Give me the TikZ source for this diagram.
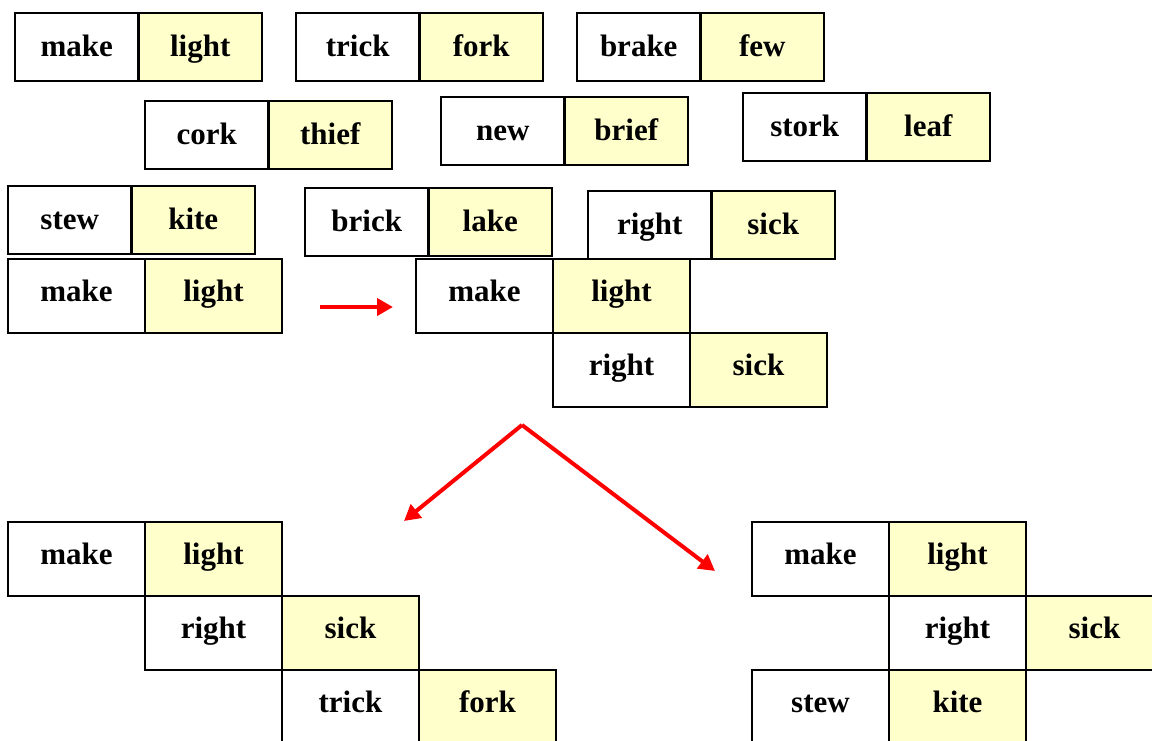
\documentclass[tikz,border=0pt]{standalone}
\usepackage{fontspec}
\setmainfont{Liberation Serif}
\usepackage{xcolor}
\usepackage{tikz}
\usetikzlibrary{arrows.meta,positioning}

\definecolor{tilefill}{HTML}{FFFFCC}

\begin{document}
\begin{tikzpicture}[x=1pt,y=-1pt]
            \tikzstyle{word} = [draw, rectangle, line width=2.2pt, outer sep=0pt, inner sep=0pt,
                font=\fontsize{31}{36}\selectfont\bfseries]
            \tikzstyle{small} = [word, minimum width=123.5pt, minimum height=68pt, text height=21pt, text depth=3pt]
            \tikzstyle{big} = [word, minimum width=137pt, minimum height=74pt, text height=18pt, text depth=7pt]
            \tikzstyle{pict} = [fill=tilefill]
            \tikzstyle{move} = [draw=red, line width=4pt, -{Triangle[length=16pt,width=17pt]}]

            \useasboundingbox (0,0) rectangle (1152,740);

            % the pile of dominoes
            \node [small, pict, anchor=north west] (light1) at (138.5,13) {light};
            \node [small, left = 0pt of light1] (make1) {make};
            \node [small, pict, anchor=north west] (fork1) at (419.5,13) {fork};
            \node [small, left = 0pt of fork1] (trick1) {trick};
            \node [small, pict, anchor=north west] (few) at (700.5,13) {few};
            \node [small, left = 0pt of few] (brake) {brake};

            \node [small, pict, anchor=north west] (thief) at (268.5,101) {thief};
            \node [small, left = 0pt of thief] (cork) {cork};
            \node [small, pict, anchor=north west] (brief) at (564.5,97) {brief};
            \node [small, left = 0pt of brief] (new) {new};
            \node [small, pict, anchor=north west] (leaf) at (866.5,93) {leaf};
            \node [small, left = 0pt of leaf] (stork) {stork};

            \node [small, pict, anchor=north west] (kite1) at (131.5,186) {kite};
            \node [small, left = 0pt of kite1] (stew1) {stew};
            \node [small, pict, anchor=north west] (lake) at (428.5,188) {lake};
            \node [small, left = 0pt of lake] (brick) {brick};
            \node [small, pict, anchor=north west] (sick1) at (711.5,191) {sick};
            \node [small, left = 0pt of sick1] (right1) {right};

            % start tile and first step
            \node [big, pict, anchor=north west] (light2) at (145,259) {light};
            \node [big, left = 0pt of light2] (make2) {make};

            \node [big, pict, anchor=north west] (light3) at (553,259) {light};
            \node [big, left = 0pt of light3] (make3) {make};
            \node [big, pict, below right = 0pt and 0pt of light3] (sick3) {sick};
            \node [big, left = 0pt of sick3] (right3) {right};

            % two ways to go on
            \node [big, pict, anchor=north west] (light4) at (145,522) {light};
            \node [big, left = 0pt of light4] (make4) {make};
            \node [big, pict, below right = 0pt and 0pt of light4] (sick4) {sick};
            \node [big, left = 0pt of sick4] (right4) {right};
            \node [big, pict, below right = 0pt and 0pt of sick4] (fork4) {fork};
            \node [big, left = 0pt of fork4] (trick4) {trick};

            \node [big, pict, anchor=north west] (light5) at (889,522) {light};
            \node [big, left = 0pt of light5] (make5) {make};
            \node [big, pict, below right = 0pt and 0pt of light5] (sick5) {sick};
            \node [big, left = 0pt of sick5] (right5) {right};
            \node [big, pict, below = 0pt of right5] (kite5) {kite};
            \node [big, left = 0pt of kite5] (stew5) {stew};

            \coordinate (go) at (320,307);
            \coordinate (gone) at (393,307);
            \coordinate (fork) at (522,425);
            \coordinate (forkleft) at (404,521);
            \coordinate (forkright) at (715,571);
            \draw [move] (go) -- (gone);
            \draw [move] (fork) -- (forkleft);
            \draw [move] (fork) -- (forkright);
\end{tikzpicture}
\end{document}
